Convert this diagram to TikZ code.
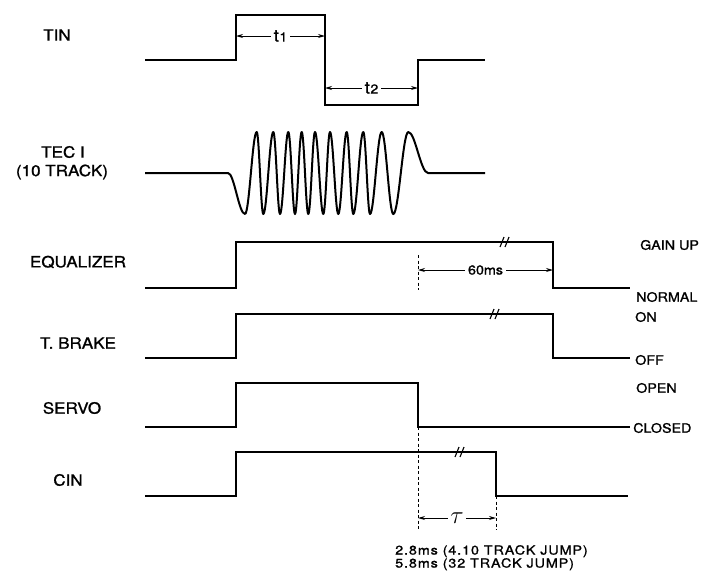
\documentclass[tikz,border=0pt]{standalone}
\usepackage{fontspec}
\setmainfont{TeX Gyre Heros}
\newfontfamily\labfont[FakeStretch=1.1,FakeBold=1.2]{TeX Gyre Heros}
\newfontfamily\widefont[FakeStretch=1.15,LetterSpace=7,FakeBold=1.2]{TeX Gyre Heros}
\usetikzlibrary{arrows.meta}
\begin{document}
\begin{tikzpicture}[x=1pt,y=-1pt,
  sig/.style={line width=1.9pt, line join=miter},
  wave/.style={line width=2pt, line join=round},
  dim/.style={line width=0.9pt, {Stealth[length=7pt,width=4pt]}-{Stealth[length=7pt,width=4pt]}},
  guide/.style={line width=0.9pt, dash pattern=on 3pt off 2.5pt},
  lbl/.style={font=\labfont\fontsize{15.5}{17}\selectfont, inner sep=0pt},
  state/.style={font=\labfont\fontsize{13}{15}\selectfont, inner sep=0pt, anchor=west},
  dimlbl/.style={fill=white, inner sep=3pt, font=\labfont\fontsize{17}{19}\selectfont},
  brk/.style={line width=1.1pt}]
\useasboundingbox (0,0) rectangle (703,576);
\fill[white] (0,0) rectangle (703,576);

% ---- left labels
\node[lbl] (ltin) at (57,35) {TIN};
\node[lbl] (ltec) at (63,152) {TEC I};
\node[lbl] (ltrk) at (62,172) {(10 TRACK)};
\node[lbl] (leq) at (78,262) {EQUALIZER};
\node[lbl] (ltb) at (78,343) {T. BRAKE};
\node[lbl] (lsv) at (72,408) {SERVO};
\node[lbl] (lcin) at (68,480) {CIN};

% ---- right labels
\node[state] (sgain) at (640,245) {GAIN UP};
\node[state] (snorm) at (636,297) {NORMAL};
\node[state] (son) at (635,317) {ON};
\node[state] (soff) at (635,360) {OFF};
\node[state] (sopen) at (636,388) {OPEN};
\node[state] (sclosed) at (633,428) {CLOSED};

% ---- TIN
\draw[sig] (145,60) -- (236,60) -- (236,15) -- (325,15) -- (325,105) -- (418,105) -- (418,60) -- (485,60);
\coordinate (t1a) at (236,36);
\coordinate (t1b) at (325,36);
\coordinate (t2a) at (325,88);
\coordinate (t2b) at (418,88);
\draw[dim] (t1a) -- node[dimlbl] (t1) {t\kern0.5pt{\fontsize{13}{14}\selectfont 1}} (t1b);
\draw[dim] (t2a) -- node[dimlbl] (t2) {t\kern0.5pt{\fontsize{13}{14}\selectfont 2}} (t2b);

% ---- TEC I waveform
\draw[wave] (145,173) -- (228,173)
  cos (236.5,193.5) sin (245,214)
  cos (250.9,173) sin (256.7,132)
  cos (260,173) sin (263.3,214)
  cos (268.3,173) sin (273.3,132)
  cos (276.7,173) sin (280,214)
  cos (284.2,173) sin (288.3,132)
  cos (291.7,173) sin (295,214)
  cos (298.3,173) sin (301.7,132)
  cos (305,173) sin (308.3,214)
  cos (311.7,173) sin (315,132)
  cos (319.2,173) sin (323.3,214)
  cos (326.7,173) sin (330,132)
  cos (334.2,173) sin (338.3,214)
  cos (342.5,173) sin (346.7,132)
  cos (350,173) sin (353.3,214)
  cos (358.3,173) sin (363.3,132)
  cos (366.7,173) sin (370,214)
  cos (375.8,173) sin (381.7,132)
  cos (387.5,173) sin (393.3,214)
  cos (400.8,173) sin (408.3,132)
  cos (418,152.5) sin (428,173) -- (485,173);

% ---- EQUALIZER
\draw[sig] (145,288) -- (236,288) -- (236,242) -- (553,242) -- (553,288) -- (630,288);
\draw[brk] (500,247) -- (504,237) (505,247) -- (509,237);
\draw[guide] (418,255) -- (418,290);
\coordinate (m60a) at (418,270);
\coordinate (m60b) at (553,270);
\draw[dim] (m60a) -- node[dimlbl, font=\labfont\fontsize{13}{15}\selectfont] (l60) {60ms} (m60b);

% ---- T. BRAKE
\draw[sig] (145,358) -- (236,358) -- (236,314) -- (553,314) -- (553,358) -- (630,358);
\draw[brk] (490,319) -- (494,309) (495,319) -- (499,309);

% ---- SERVO
\draw[sig] (145,427) -- (236,427) -- (236,383) -- (418,383) -- (418,427) -- (630,427);

% ---- CIN
\draw[sig] (145,496) -- (236,496) -- (236,452) -- (496,452) -- (496,496) -- (628,496);
\draw[brk] (455,457) -- (459,447) (460,457) -- (464,447);
\draw[guide] (418,427) -- (418,530);
\draw[guide] (496,496) -- (496,530);
\coordinate (taua) at (418,518);
\coordinate (taub) at (496,518);
\draw[dim] (taua) -- node[dimlbl, font=\fontsize{24}{26}\selectfont, inner sep=2pt] (ltau) {$\tau$} (taub);

% ---- bottom note
\node[anchor=north west, align=left, inner sep=0pt, font=\widefont\fontsize{12.5}{13}\selectfont] (note) at (395,545)
  {2.8ms (4.10 TRACK JUMP)\\5.8ms (32 TRACK JUMP)};
\end{tikzpicture}
\end{document}
